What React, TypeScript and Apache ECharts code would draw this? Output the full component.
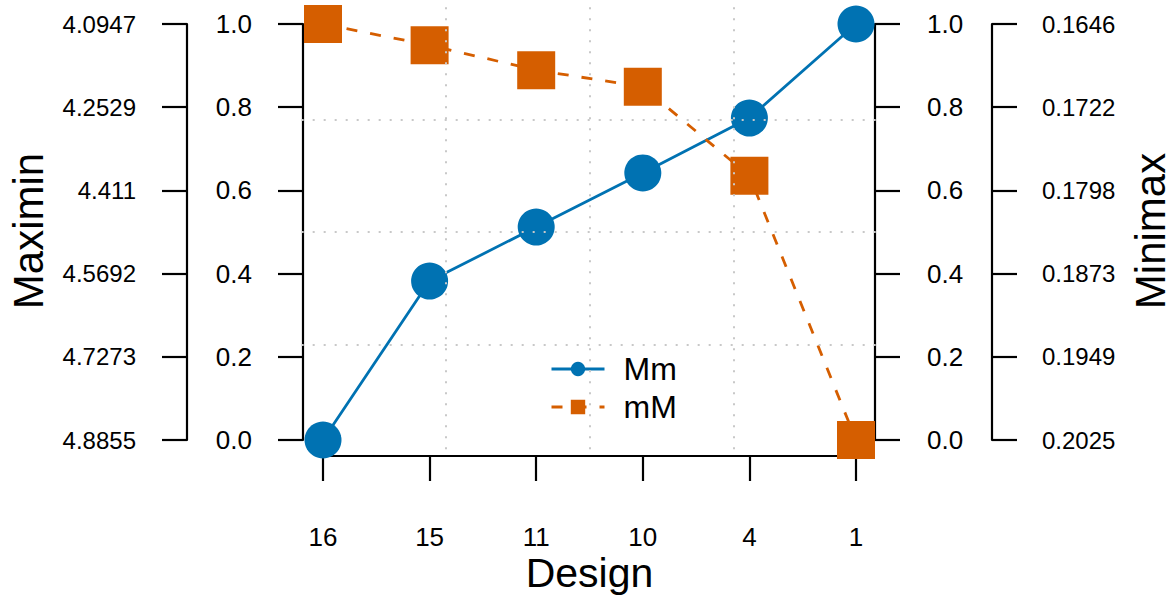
import React, { useEffect, useRef } from "react";
import * as echarts from "echarts";

const designs = ["16", "15", "11", "10", "4", "1"];
const mmValues = [0, 0.382, 0.512, 0.642, 0.774, 1.0];
const mMValues = [1.0, 0.949, 0.889, 0.849, 0.635, 0.0];
const scaledTicks = ["0.0", "0.2", "0.4", "0.6", "0.8", "1.0"];
const maximinTicks = ["4.8855", "4.7273", "4.5692", "4.411", "4.2529", "4.0947"];
const minimaxTicks = ["0.2025", "0.1949", "0.1873", "0.1798", "0.1722", "0.1646"];

const BLUE = "#0072B2";
const ORANGE = "#D55E00";
const FONT = "'Liberation Sans', Arial, Helvetica, sans-serif";

const idx = (v: number) => Math.round(v / 0.2);

function yAxisDef(position: "left" | "right", offset: number, margin: number, labels: string[], fontSize: number) {
  return {
    gridIndex: 1,
    type: "value",
    min: 0,
    max: 1,
    interval: 0.2,
    position,
    offset,
    axisLine: { show: true, onZero: false, lineStyle: { color: "#000", width: 2.2 } },
    axisTick: { show: true, length: 25, lineStyle: { color: "#000", width: 2.2 } },
    axisLabel: {
      show: true,
      margin,
      fontSize,
      color: "#000",
      fontFamily: FONT,
      formatter: (v: number) => labels[idx(v)],
    },
    splitLine: { show: false },
  };
}

export default function App() {
  const ref = useRef<HTMLDivElement>(null);
  useEffect(() => {
    document.body.style.margin = "0";
    const chart = echarts.init(ref.current!, undefined, { renderer: "svg" });
    const gridLine = {
      show: true,
      showMinLine: false,
      showMaxLine: false,
      lineStyle: { color: "#c8c8c8", width: 2, type: [2, 9] },
    };
    const option = {
      animation: false,
      backgroundColor: "#ffffff",
      textStyle: { fontFamily: FONT },
      grid: [
        { left: 301.68, top: 7.36, width: 575.64, height: 449.28, show: false },
        { left: 323, top: 24, width: 533, height: 416, show: false },
      ],
      xAxis: [
        {
          gridIndex: 0,
          type: "value",
          min: 0,
          max: 4,
          interval: 1,
          z: 5,
          axisLine: { show: false },
          axisTick: { show: false },
          axisLabel: { show: false },
          splitLine: gridLine,
        },
        {
          gridIndex: 1,
          type: "value",
          min: 1,
          max: 6,
          interval: 1,
          position: "bottom",
          offset: 16,
          axisLine: { show: true, onZero: false, lineStyle: { color: "#000", width: 2.2 } },
          axisTick: { show: true, length: 25, lineStyle: { color: "#000", width: 2.2 } },
          axisLabel: {
            show: true,
            margin: 70,
            fontSize: 26,
            lineHeight: 22,
            color: "#000",
            fontFamily: FONT,
            formatter: (v: number) => designs[Math.round(v) - 1],
          },
          splitLine: { show: false },
        },
      ],
      yAxis: [
        {
          gridIndex: 0,
          type: "value",
          min: 0,
          max: 4,
          interval: 1,
          z: 5,
          axisLine: { show: false },
          axisTick: { show: false },
          axisLabel: { show: false },
          splitLine: gridLine,
        },
        yAxisDef("left", 20, 51, scaledTicks, 26),
        yAxisDef("left", 136, 51, maximinTicks, 24),
        yAxisDef("right", 19, 52, scaledTicks, 26),
        yAxisDef("right", 136, 50, minimaxTicks, 24),
      ],
      legend: {
        show: true,
        orient: "vertical",
        left: 545,
        top: 348,
        itemWidth: 53,
        itemHeight: 18,
        itemGap: 6,
        lineStyle: { width: 3 },
        textStyle: { fontSize: 32, color: "#000", fontFamily: FONT, lineHeight: 32, padding: [0, 0, 0, 14] },
        data: ["Mm", "mM"],
      },
      series: [
        {
          name: "Mm",
          type: "line",
          xAxisIndex: 1,
          yAxisIndex: 1,
          data: mmValues.map((v, i) => [i + 1, v]),
          symbol: "circle",
          symbolSize: 37,
          clip: false,
          z: 2,
          lineStyle: { color: BLUE, width: 2.8 },
          itemStyle: { color: BLUE },
        },
        {
          name: "mM",
          type: "line",
          xAxisIndex: 1,
          yAxisIndex: 1,
          data: mMValues.map((v, i) => [i + 1, v]),
          symbol: "rect",
          symbolSize: 38,
          clip: false,
          z: 2,
          lineStyle: { color: ORANGE, width: 2.8, type: [11, 13] },
          itemStyle: { color: ORANGE },
        },
      ],
      graphic: [
        {
          type: "text",
          x: 589.5,
          y: 573,
          style: { text: "Design", font: `41px ${FONT}`, fill: "#000", align: "center", verticalAlign: "middle", lineHeight: 30 },
        },
        {
          type: "text",
          x: 28,
          y: 231,
          rotation: Math.PI / 2,
          style: { text: "Maximin", font: `42px ${FONT}`, fill: "#000", align: "center", verticalAlign: "middle", lineHeight: 30 },
        },
        {
          type: "text",
          x: 1150,
          y: 231,
          rotation: Math.PI / 2,
          style: { text: "Minimax", font: `42px ${FONT}`, fill: "#000", align: "center", verticalAlign: "middle", lineHeight: 30 },
        },
      ],
    };
    chart.setOption(option as any);
    return () => chart.dispose();
  }, []);
  return <div ref={ref} style={{ width: 1176, height: 598 }} />;
}
